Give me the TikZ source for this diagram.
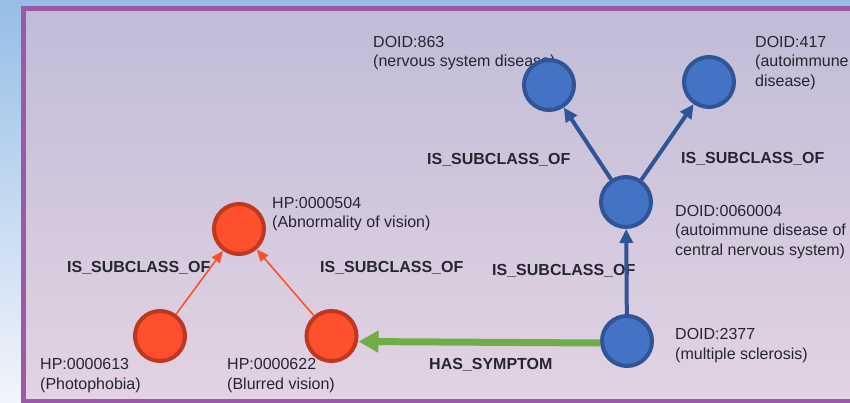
\documentclass[tikz,border=0pt]{standalone}
\usepackage{fontspec}
\setmainfont{Liberation Sans}
\usetikzlibrary{arrows.meta}
\definecolor{bluefill}{RGB}{68,114,196}
\definecolor{blueline}{RGB}{47,85,151}
\definecolor{redfill}{RGB}{255,80,45}
\definecolor{redline}{RGB}{190,55,30}
\definecolor{greenline}{RGB}{112,173,71}
\definecolor{txt}{RGB}{38,38,48}
\definecolor{framec}{RGB}{155,90,168}
\definecolor{innertop}{RGB}{192,188,215}
\definecolor{innerbot}{RGB}{227,211,227}
\definecolor{outertop}{RGB}{150,190,230}
\definecolor{outerbot}{RGB}{242,245,251}
\tikzset{
  bnode/.style={circle, minimum size=50pt, inner sep=0pt, line width=4pt, draw=blueline, fill=bluefill},
  rnode/.style={circle, minimum size=50pt, inner sep=0pt, line width=4pt, draw=redline, fill=redfill},
  desc/.style={anchor=base west, inner sep=0pt, text=txt, font=\fontsize{16}{19.5}\selectfont},
  rel/.style={anchor=base west, inner sep=0pt, text=txt, font=\fontsize{16}{19.5}\selectfont\bfseries},
  barrow/.style={draw=blueline, line width=4pt, -{Triangle[length=14pt,width=13pt]}},
  rarrow/.style={draw=redfill, line width=1.6pt, -{Triangle[length=12pt,width=10pt]}},
  garrow/.style={draw=greenline, line width=7pt, -{Triangle[length=20pt,width=21pt]}},
}
\begin{document}
\begin{tikzpicture}[x=1pt,y=-1pt]
\useasboundingbox (0,0) rectangle (850,403);
\fill[top color=outertop, bottom color=outerbot] (0,0) rectangle (850,403);
\draw[line width=4.5pt, draw=framec, top color=innertop, bottom color=innerbot] (23.5,8.5) rectangle (870,401.5);

% descriptions
\node[desc] (t863a) at (373,47.5) {DOID:863};
\node[desc] (t863b) at (373,67) {(nervous system disease)};
\node[desc] (t417a) at (755,47.5) {DOID:417};
\node[desc] (t417b) at (755,67) {(autoimmune};
\node[desc] (t417c) at (755,86.5) {disease)};
\node[desc] (t604a) at (675,216.5) {DOID:0060004};
\node[desc] (t604b) at (675,236) {(autoimmune disease of};
\node[desc] (t604c) at (675,255.5) {central nervous system)};
\node[desc] (t2377a) at (675,339.5) {DOID:2377};
\node[desc] (t2377b) at (675,359) {(multiple sclerosis)};
\node[desc] (t504a) at (272,208.5) {HP:0000504};
\node[desc] (t504b) at (272,228) {(Abnormality of vision)};
\node[desc] (t613a) at (40,369.5) {HP:0000613};
\node[desc] (t613b) at (40,389) {(Photophobia)};
\node[desc] (t622a) at (227,369.5) {HP:0000622};
\node[desc] (t622b) at (227,389) {(Blurred vision)};

% relation labels
\node[rel] (l1) at (67,272) {IS\_SUBCLASS\_OF};
\node[rel] (l2) at (320,272.5) {IS\_SUBCLASS\_OF};
\node[rel] (l3) at (492,275.5) {IS\_SUBCLASS\_OF};
\node[rel] (l4) at (427,164.5) {IS\_SUBCLASS\_OF};
\node[rel] (l5) at (681,163.5) {IS\_SUBCLASS\_OF};
\node[rel] (l6) at (429,369.5) {HAS\_SYMPTOM};

% circles
\node[bnode] (d863) at (549,85) {};
\node[bnode] (d417) at (709,82) {};
\node[bnode] (d604) at (626,202) {};
\node[bnode] (d2377) at (627,341) {};
\node[rnode] (h504) at (239,229) {};
\node[rnode] (h613) at (160,336) {};
\node[rnode] (h622) at (331.5,336) {};

% connectors
\draw[barrow] (d2377) -- (d604);
\draw[barrow] (d604) -- (d863);
\draw[barrow] (d604) -- (d417);
\draw[garrow] ([yshift=-2pt]d2377.west) -- ([yshift=-5.5pt]h622.east);
\draw[rarrow] (h613) -- (h504);
\draw[rarrow] (h622) -- (h504);
\end{tikzpicture}
\end{document}
